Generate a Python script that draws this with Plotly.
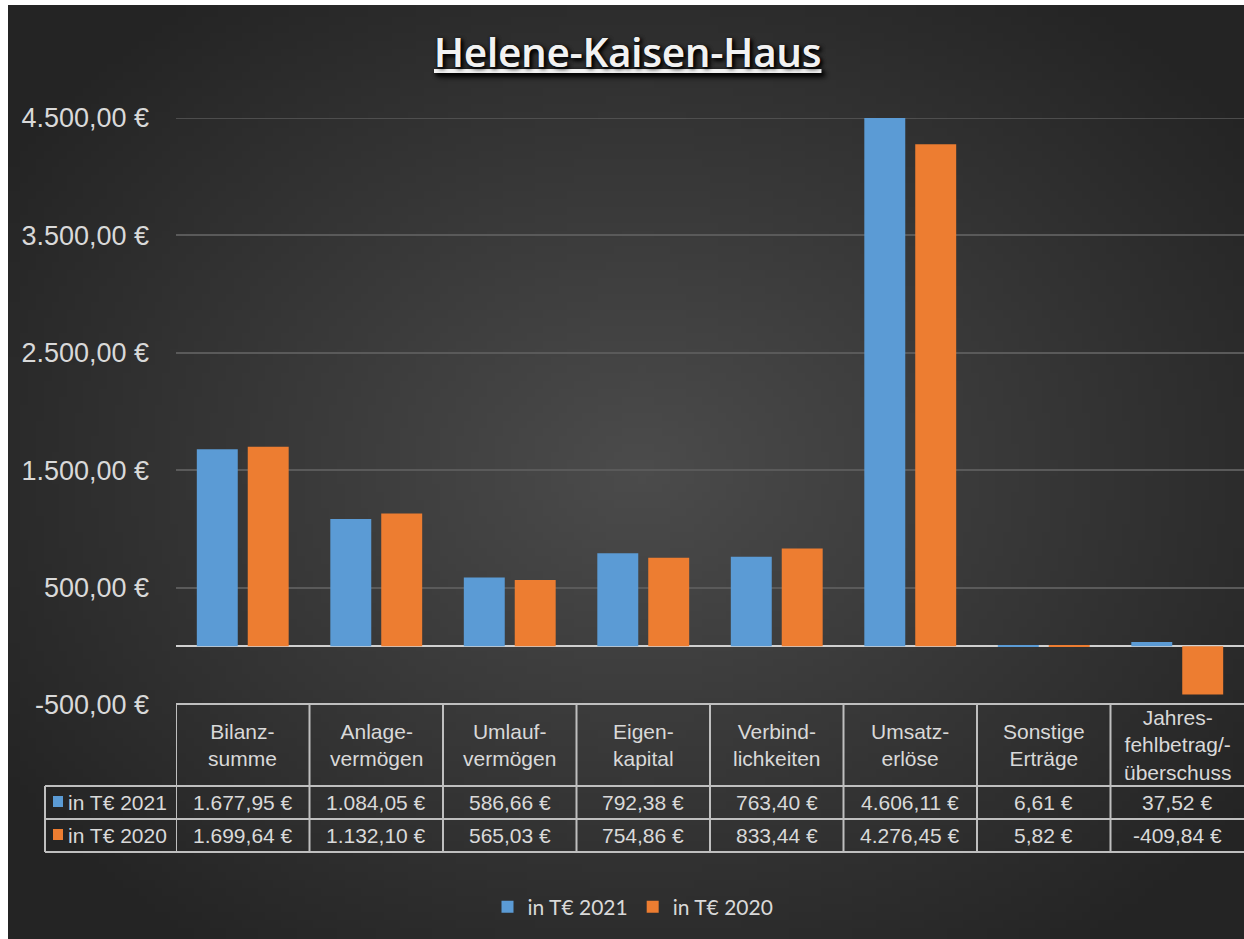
import plotly.graph_objects as go
import numpy as np
import zlib, struct, base64

# ---------------- data ----------------
categories = ["Bilanz-<br>summe", "Anlage-<br>vermögen", "Umlauf-<br>vermögen", "Eigen-<br>kapital",
              "Verbind-<br>lichkeiten", "Umsatz-<br>erlöse", "Sonstige<br>Erträge",
              "Jahres-<br>fehlbetrag/-<br>überschuss"]
series_names = ["in T€ 2021", "in T€ 2020"]
values_2021 = [1677.95, 1084.05, 586.66, 792.38, 763.40, 4606.11, 6.61, 37.52]
values_2020 = [1699.64, 1132.10, 565.03, 754.86, 833.44, 4276.45, 5.82, -409.84]
ytick_vals = [-500, 500, 1500, 2500, 3500, 4500]
ytick_text = ["-500,00 €", "500,00 €", "1.500,00 €", "2.500,00 €", "3.500,00 €", "4.500,00 €"]
title_text = "Helene-Kaisen-Haus"

BLUE = "#5b9bd5"
ORANGE = "#ed7d31"
TXT = "#d9d9d9"
LINE = "#bfbfbf"

def de_fmt(v):
    s = f"{v:,.2f}".replace(",", "X").replace(".", ",").replace("X", ".")
    return s + " €"

# ---------------- background gradient image ----------------
W, H = 1244, 939
iw, ih = 156, 118
xs = (np.arange(iw) + 0.5) / iw * (W - 8) + 8
ys = (np.arange(ih) + 0.5) / ih * (H - 5) + 5
X, Y = np.meshgrid(xs, ys)
r = np.sqrt(((X - 640) / 760) ** 2 + ((Y - 470) / 600) ** 2)
r = np.clip(r, 0, 1)
c_in, c_out = 76, 36
val = (c_in + (c_out - c_in) * r).astype(np.uint8)
raw = b"".join(b"\x00" + np.repeat(val[j][:, None], 3, axis=1).tobytes() for j in range(ih))

def chunk(tag, data):
    return struct.pack(">I", len(data)) + tag + data + struct.pack(">I", zlib.crc32(tag + data) & 0xffffffff)

png = b"\x89PNG\r\n\x1a\n" + chunk(b"IHDR", struct.pack(">IIBBBBB", iw, ih, 8, 2, 0, 0, 0)) \
      + chunk(b"IDAT", zlib.compress(raw, 9)) + chunk(b"IEND", b"")
bg_src = "data:image/png;base64," + base64.b64encode(png).decode()

# ---------------- geometry helpers ----------------
L, R, T, B = 176, 0, 118, 234
pw = W - L - R
ph = H - T - B
def px_x(x):
    return (x - L) / pw
def px_y(y):
    return (H - B - y) / ph

fig = go.Figure()
fig.add_trace(go.Bar(x=categories, y=values_2021, name=series_names[0], marker=dict(color=BLUE, line=dict(width=0))))
fig.add_trace(go.Bar(x=categories, y=values_2020, name=series_names[1], marker=dict(color=ORANGE, line=dict(width=0))))

shapes = []
n = len(categories)
# gridline at top of range (plotly omits it at the exact edge)
shapes.append(dict(type="line", xref="paper", yref="y", x0=0, x1=1, y0=4500, y1=4500,
                   line=dict(color="#5a5a5a", width=1.5), layer="below"))
# table horizontal lines
y_top, y_r1, y_r2, y_bot = px_y(704), px_y(786), px_y(819), px_y(852)
x_leg = px_x(45)
line_style = dict(color=LINE, width=2)
shapes.append(dict(type="line", xref="paper", yref="paper", x0=0, x1=1, y0=y_top, y1=y_top, line=line_style))
for yy in (y_r1, y_r2, y_bot):
    shapes.append(dict(type="line", xref="paper", yref="paper", x0=x_leg, x1=1, y0=yy, y1=yy, line=line_style))
# vertical lines
for i in range(n):
    shapes.append(dict(type="line", xref="x", yref="paper", x0=i - 0.5, x1=i - 0.5, y0=y_top, y1=y_bot, line=line_style))
shapes.append(dict(type="line", xref="paper", yref="paper", x0=x_leg, x1=x_leg, y0=y_r1, y1=y_bot, line=line_style))
# legend keys in table
for yy_px, col in ((802, BLUE), (835, ORANGE)):
    shapes.append(dict(type="rect", xref="paper", yref="paper", x0=px_x(53), x1=px_x(63),
                       y0=px_y(yy_px + 5), y1=px_y(yy_px - 6), fillcolor=col, line=dict(width=0)))

annotations = []
tfont = dict(family="Liberation Sans, Arial", size=21, color=TXT)
for i, cat in enumerate(categories):
    annotations.append(dict(x=i, xref="x", y=px_y(745), yref="paper", text=cat, showarrow=False,
                            font=tfont, xanchor="center", yanchor="middle"))
    annotations.append(dict(x=i, xref="x", y=px_y(802), yref="paper", text=de_fmt(values_2021[i]),
                            showarrow=False, font=tfont, xanchor="center", yanchor="middle"))
    annotations.append(dict(x=i, xref="x", y=px_y(835), yref="paper", text=de_fmt(values_2020[i]),
                            showarrow=False, font=tfont, xanchor="center", yanchor="middle"))
for yy_px, nm in ((802, series_names[0]), (835, series_names[1])):
    annotations.append(dict(x=px_x(66), xref="paper", y=px_y(yy_px), yref="paper", text=nm,
                            showarrow=False, font=tfont, xanchor="left", yanchor="middle"))
# title
annotations.append(dict(x=px_x(627), xref="paper", y=px_y(52), yref="paper", text=title_text,
                        showarrow=False, xanchor="center", yanchor="middle",
                        font=dict(family="Open Sans", size=40, weight=600, color="#f2f2f2",
                                  lineposition="under", shadow="2px 2px 4px rgba(0,0,0,0.9)")))

fig.update_layout(
    width=W, height=H,
    margin=dict(l=L, r=R, t=T, b=B, pad=0),
    paper_bgcolor="white",
    plot_bgcolor="rgba(0,0,0,0)",
    barmode="group", bargap=0.237, bargroupgap=0.196,
    separators=",.",
    shapes=shapes,
    annotations=annotations,
    images=[dict(source=bg_src, xref="paper", yref="paper", x=px_x(8), y=px_y(5),
                 sizex=px_x(W) - px_x(8), sizey=px_y(5) - px_y(H), sizing="stretch",
                 xanchor="left", yanchor="top", layer="below")],
    showlegend=True,
    legend=dict(orientation="h", x=px_x(633), xanchor="center", y=px_y(907), yanchor="middle",
                font=dict(family="Lato", size=21, color=TXT), bgcolor="rgba(0,0,0,0)",
                itemwidth=30, traceorder="normal"),
    xaxis=dict(showticklabels=False, showgrid=False, zeroline=False, showline=False, ticks="",
               range=[-0.5, n - 0.5]),
    yaxis=dict(range=[-500, 4500], tickvals=ytick_vals, ticktext=ytick_text,
               showgrid=True, gridcolor="#5a5a5a", gridwidth=1.5,
               zeroline=True, zerolinecolor="#d0d0d0", zerolinewidth=2,
               showline=False, ticks="", ticklabelstandoff=26,
               tickfont=dict(family="Liberation Sans, Arial", size=27, color=TXT)),
)

fig.write_html("out.html", config={"displayModeBar": False},
               post_script="document.body.style.margin='0px';document.body.style.overflow='hidden';")
